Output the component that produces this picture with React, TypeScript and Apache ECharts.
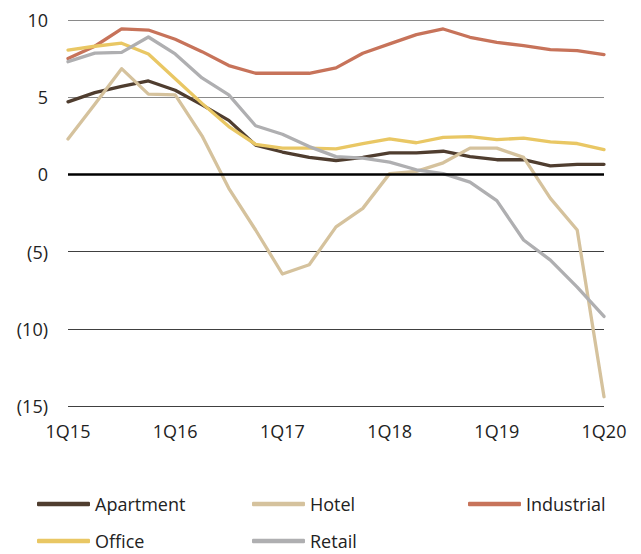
import React, { useEffect, useRef } from "react";
import * as echarts from "echarts";

const categories = [
  "1Q15", "2Q15", "3Q15", "4Q15",
  "1Q16", "2Q16", "3Q16", "4Q16",
  "1Q17", "2Q17", "3Q17", "4Q17",
  "1Q18", "2Q18", "3Q18", "4Q18",
  "1Q19", "2Q19", "3Q19", "4Q19",
  "1Q20",
];

const apartment = [4.7, 5.3, 5.7, 6.05, 5.45, 4.5, 3.5, 1.9, 1.45, 1.1, 0.9, 1.1, 1.4, 1.4, 1.5, 1.15, 0.95, 0.95, 0.55, 0.65, 0.65];
const hotel = [2.3, 4.55, 6.85, 5.2, 5.15, 2.5, -0.9, -3.6, -6.45, -5.85, -3.4, -2.2, 0.05, 0.2, 0.75, 1.7, 1.7, 1.1, -1.55, -3.6, -14.4];
const industrial = [7.5, 8.3, 9.42, 9.35, 8.75, 7.95, 7.05, 6.55, 6.55, 6.55, 6.9, 7.85, 8.45, 9.05, 9.42, 8.88, 8.55, 8.34, 8.08, 8.02, 7.76];
const office = [8.05, 8.3, 8.5, 7.8, 6.2, 4.6, 3.1, 1.95, 1.7, 1.7, 1.65, 2.0, 2.3, 2.05, 2.4, 2.45, 2.25, 2.35, 2.1, 2.0, 1.6];
const retail = [7.3, 7.85, 7.9, 8.9, 7.8, 6.25, 5.15, 3.15, 2.6, 1.8, 1.15, 1.05, 0.8, 0.3, 0.05, -0.5, -1.7, -4.25, -5.55, -7.3, -9.2];

const seriesNames = ["Apartment", "Hotel", "Industrial", "Office", "Retail"];
const seriesData = [apartment, hotel, industrial, office, retail];
const seriesColors = ["#4f3d2f", "#d5c29d", "#c7735a", "#e9c764", "#afafb1"];

const yMin = -15;
const yMax = 10;
const yStep = 5;

const FONT = "'Open Sans', sans-serif";

export default function App() {
  const ref = useRef<HTMLDivElement>(null);

  useEffect(() => {
    if (!ref.current) return;
    const chart = echarts.init(ref.current, null, { renderer: "svg" });

    const legendPos = [
      { left: 37, top: 495 },
      { left: 252, top: 495 },
      { left: 468, top: 495 },
      { left: 37, top: 532 },
      { left: 252, top: 532 },
    ];

    chart.setOption({
      animation: false,
      backgroundColor: "#ffffff",
      textStyle: { fontFamily: FONT },
      grid: { left: 68, right: 37, top: 20, bottom: 148, containLabel: false },
      legend: seriesNames.map((name, i) => ({
        data: [name],
        left: legendPos[i].left,
        top: legendPos[i].top,
        icon: "roundRect",
        itemWidth: 53,
        itemHeight: 4.5,
        itemGap: 0,
        padding: 0,
        selectedMode: false,
        textStyle: { fontSize: 18, color: "#222", fontFamily: FONT, padding: [0, 0, 0, 0] },
      })),
      xAxis: {
        type: "category",
        data: categories,
        boundaryGap: false,
        axisLine: { show: false },
        axisTick: { show: false },
        splitLine: { show: false },
        axisLabel: {
          interval: 3,
          fontSize: 18,
          color: "#222",
          fontFamily: FONT,
          margin: 16,
        },
      },
      yAxis: {
        type: "value",
        min: yMin,
        max: yMax,
        interval: yStep,
        axisLine: { show: false },
        axisTick: { show: false },
        axisLabel: {
          fontSize: 18,
          color: "#222",
          fontFamily: FONT,
          margin: 20,
          formatter: (v: number) => (v < 0 ? `(${-v})` : `${v}`),
        },
        splitLine: {
          show: true,
          lineStyle: {
            color: ["#404040", "#404040", "#404040", "#000000", "#8a8a8a", "#8a8a8a"],
            width: 1.2,
          },
        },
      },
      series: seriesNames.map((name, i) => ({
        name,
        type: "line",
        data: seriesData[i],
        symbol: "none",
        showSymbol: false,
        color: seriesColors[i],
        itemStyle: { color: seriesColors[i] },
        lineStyle: { width: 3.3, color: seriesColors[i], cap: "round", join: "round" },
        markLine:
          i === 0
            ? {
                silent: true,
                symbol: ["none", "none"],
                label: { show: false },
                lineStyle: { color: "#000000", width: 2.6, type: "solid" },
                data: [{ yAxis: 0 }],
              }
            : undefined,
      })),
    });

    return () => chart.dispose();
  }, []);

  return (
    <div
      ref={ref}
      style={{ position: "fixed", left: 0, top: 0, width: 641, height: 554, background: "#fff" }}
    />
  );
}
